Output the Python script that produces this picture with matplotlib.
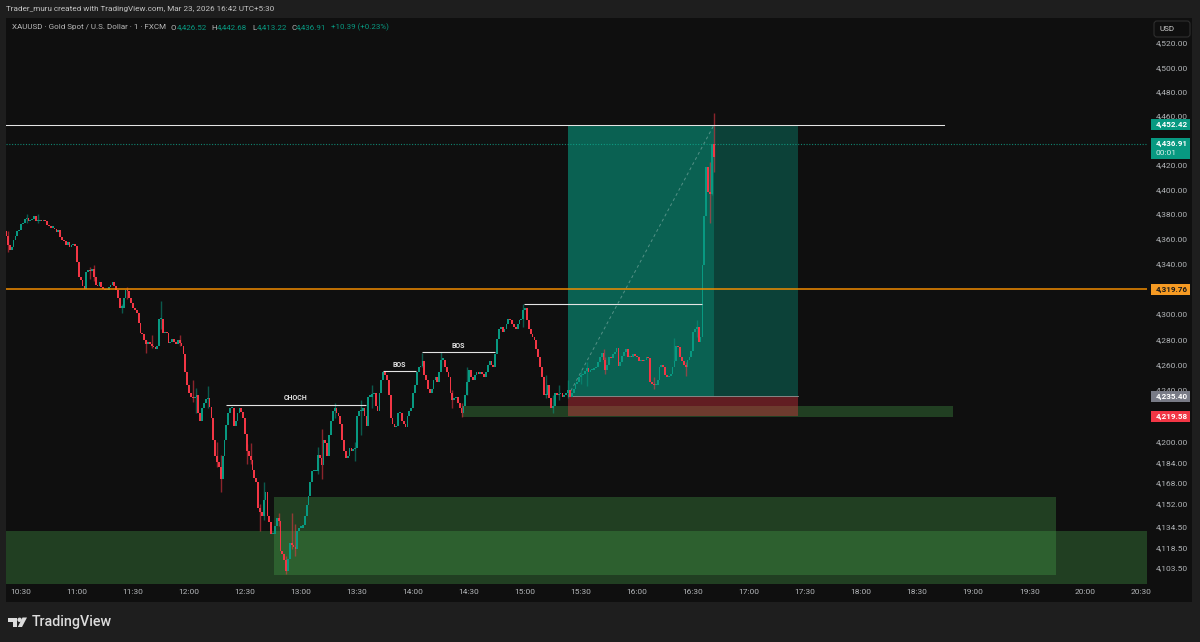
"""Recreate the XAUUSD 1 minute TradingView chart."""

import matplotlib
matplotlib.use('Agg')
import matplotlib.pyplot as plt
from matplotlib.patches import Rectangle, Polygon, Circle, FancyBboxPatch
from matplotlib.transforms import IdentityTransform

plt.rcParams['font.family'] = ['Roboto', 'DejaVu Sans']

W, H = 1200, 642

# closes, one row per 10 minutes, first candle is 10:22
closes = [
  4362, 4355, 4351, 4353, 4359, 4362, 4366, 4367, 4372, 4373,
  4376, 4377, 4374, 4375, 4376, 4378, 4374, 4374, 4375, 4374,
  4375, 4374, 4371, 4370, 4369, 4369, 4368, 4365, 4367, 4361,
  4359, 4358, 4355, 4357, 4353, 4355, 4356, 4354, 4341, 4329,
  4327, 4322, 4320, 4333, 4335, 4334, 4336, 4329, 4323, 4322,
  4325, 4321, 4320, 4319, 4319, 4321, 4323, 4325, 4322, 4319,
  4313, 4305, 4305, 4313, 4319, 4318, 4313, 4309, 4305, 4303,
  4301, 4293, 4285, 4284, 4279, 4276, 4278, 4276, 4275, 4274,
  4272, 4275, 4296, 4296, 4285, 4286, 4285, 4277, 4278, 4280,
  4278, 4276, 4279, 4277, 4275, 4268, 4254, 4244, 4238, 4235,
  4234, 4235, 4236, 4222, 4216, 4226, 4230, 4233, 4234, 4227,
  4218, 4201, 4189, 4184, 4180, 4171, 4189, 4201, 4213, 4222,
  4226, 4226, 4212, 4216, 4222, 4226, 4223, 4218, 4206, 4193,
  4189, 4186, 4178, 4172, 4169, 4149, 4146, 4143, 4155, 4161,
  4143, 4138, 4129, 4129, 4135, 4141, 4139, 4116, 4114, 4109,
  4101, 4110, 4122, 4121, 4119, 4118, 4131, 4134, 4134, 4136,
  4143, 4151, 4158, 4169, 4177, 4177, 4177, 4190, 4187, 4182,
  4201, 4199, 4189, 4205, 4216, 4224, 4226, 4222, 4220, 4214,
  4201, 4193, 4187, 4189, 4195, 4193, 4194, 4195, 4220, 4224,
  4224, 4226, 4220, 4212, 4235, 4235, 4237, 4238, 4228, 4224,
  4238, 4248, 4254, 4252, 4248, 4236, 4218, 4214, 4211, 4212,
  4222, 4222, 4216, 4214, 4211, 4220, 4224, 4226, 4238, 4244,
  4254, 4258, 4259, 4263, 4252, 4248, 4241, 4238, 4241, 4248,
  4250, 4246, 4254, 4264, 4264, 4258, 4254, 4250, 4238, 4232,
  4234, 4235, 4230, 4226, 4222, 4228, 4236, 4246, 4256, 4250,
  4248, 4252, 4254, 4253, 4254, 4253, 4250, 4254, 4260, 4263,
  4260, 4258, 4268, 4280, 4288, 4290, 4286, 4288, 4292, 4296,
  4295, 4292, 4290, 4288, 4292, 4295, 4296, 4303, 4305, 4295,
  4288, 4284, 4282, 4279, 4272, 4266, 4258, 4250, 4236, 4236,
  4244, 4234, 4226, 4228, 4238, 4236, 4237, 4238, 4235, 4236,
  4238, 4240, 4235, 4238, 4241, 4245, 4246, 4250, 4252, 4253,
  4255, 4257, 4254, 4256, 4256, 4257, 4258, 4262, 4266, 4269,
  4264, 4256, 4260, 4266, 4265, 4268, 4270, 4273, 4259, 4262,
  4267, 4270, 4272, 4266, 4267, 4266, 4268, 4267, 4266, 4263,
  4264, 4263, 4264, 4266, 4265, 4246, 4245, 4244, 4244, 4248,
  4258, 4260, 4258, 4252, 4250, 4251, 4253, 4258, 4263, 4275,
  4274, 4266, 4263, 4260, 4258, 4264, 4266, 4271, 4286, 4288,
  4290, 4278, 4282, 4339, 4378, 4418, 4398, 4396, 4436.91, 4426.52,
]
first_open = 4366
first_minute = -8  # minutes from 10:30

# the candles with a wick that stands out
wick_index = [1, 11, 17, 45, 47, 62, 65, 75, 78, 83, 93, 100, 102, 108, 113,
              115, 129, 131, 136, 138, 146, 150, 153, 155, 167, 169, 176, 187,
              190, 196, 223, 233, 239, 244, 247, 277, 289, 293, 296, 301, 308,
              311, 320, 321, 347, 358, 364, 370, 377, 378, 379]
wick_high = [4366, 4380, 4380, 4337, 4339, 4308, 4321, 4279, 4283, 4310, 4283,
             4248, 4242, 4243, 4200, 4190, 4198, 4199, 4152, 4169, 4145, 4112,
             4145, 4137, 4196, 4210, 4230, 4200, 4232, 4244, 4269, 4270, 4240,
             4230, 4258, 4308, 4252, 4236, 4244, 4248, 4256, 4262, 4272, 4266,
             4250, 4281, 4262, 4295, 4422, 4415, 4462]
wick_low = [4349, 4373, 4373, 4328, 4326, 4301, 4312, 4269, 4273, 4288, 4275,
            4231, 4222, 4226, 4180, 4161, 4183, 4183, 4131, 4140, 4135, 4099,
            4118, 4112, 4175, 4171, 4218, 4185, 4205, 4226, 4258, 4258, 4226,
            4219, 4236, 4290, 4234, 4222, 4232, 4234, 4245, 4243, 4262, 4253,
            4241, 4262, 4251, 4282, 4373, 4395, 4414]

# 4,320 and 4,220 sit fully under price tags in the reference
price_ticks = [4520, 4500, 4480, 4460, 4440, 4420, 4400, 4380, 4360, 4340,
               4300, 4280, 4260, 4240, 4200, 4184, 4168, 4152,
               4134.5, 4118.5, 4103.5]
time_labels = ['10:30', '11:00', '11:30', '12:00', '12:30', '13:00', '13:30',
               '14:00', '14:30', '15:00', '15:30', '16:00', '16:30', '17:00',
               '17:30', '18:00', '18:30', '19:00', '19:30', '20:00', '20:30']

last_price = 4436.91
target_price = 4452.42
entry_price = 4235.40
stop_price = 4219.58
orange_price = 4319.76

# minute start, minute end, top price, bottom price
zone_start = [236.2, 135.5, -8.1]
zone_end = [499.2, 554.4, 603.2]
zone_top = [4228, 4157.6, 4131.6]
zone_bottom = [4219.4, 4098.2, 4091.4]

box_start = 293
box_split = 371.2
box_end = 416

level_names = ['CHOCH', 'BOS', 'BOS', '']
level_start = [109.8, 193.9, 214.8, 269.4]
level_end = [184.8, 211.6, 253.9, 364.8]
level_price = [4228.8, 4254.6, 4269.6, 4307.5]

UP = '#089981'
DOWN = '#f23645'
AXIS_TEXT = '#b2b5b8'


def draw_candles(ax):
  """Draw bodies and wicks from the close list."""
  opens = [first_open] + closes[:-1]
  xs = [first_minute + i for i in range(len(closes))]
  colors = [UP if c >= o else DOWN for o, c in zip(opens, closes)]
  bottoms = [min(o, c) for o, c in zip(opens, closes)]
  heights = [max(abs(c - o), 0.9) for o, c in zip(opens, closes)]
  ax.bar(xs, heights, bottom=bottoms, width=0.95, color=colors, linewidth=0,
         zorder=4)
  wick_x = [xs[i] for i in wick_index]
  wick_colors = [colors[i] for i in wick_index]
  ax.vlines(wick_x, wick_low, wick_high, colors=wick_colors, linewidth=1.0,
            alpha=0.55, zorder=3.9)


def draw_overlays(ax):
  """Zones, long position boxes and the drawn levels."""
  for x0, x1, top, bottom in zip(zone_start, zone_end, zone_top, zone_bottom):
    ax.add_patch(Rectangle((x0, bottom), x1 - x0, top - bottom, linewidth=0,
                           facecolor='#4caf50', alpha=0.3, zorder=1))
  # the target box is two layers, the stop box sits under it
  for x1 in [box_split, box_end]:
    ax.add_patch(Rectangle((box_start, entry_price), x1 - box_start,
                           target_price - entry_price, linewidth=0,
                           facecolor=UP, alpha=0.37, zorder=2))
  ax.add_patch(Rectangle((box_start, stop_price), box_end - box_start,
                         entry_price - stop_price, linewidth=0,
                         facecolor=DOWN, alpha=0.37, zorder=2))
  ax.plot([box_start, box_end], [entry_price, entry_price], color='#8a9a98',
          linewidth=0.6, zorder=3)
  ax.plot([box_start, box_split], [entry_price, target_price], color='#ffffff',
          alpha=0.3, linewidth=0.7, dashes=(3, 3), zorder=3)

  for name, x0, x1, p in zip(level_names, level_start, level_end, level_price):
    ax.plot([x0, x1], [p, p], color='#e4e4e4', linewidth=0.8, zorder=5,
            solid_capstyle='butt')
    if name:
      ax.annotate(name, ((x0 + x1) / 2, p), xytext=(0, 2),
                  textcoords='offset points', ha='center', va='bottom',
                  color='#e0e0e0', fontsize=5, fontweight='bold', zorder=6)

  ax.plot([-8.1, 494.4], [target_price, target_price], color='#e4e4e4',
          linewidth=0.75, zorder=5)
  ax.axhline(last_price, color='#0fae92', linewidth=0.8,
             linestyle=(0, (1, 1.5)), alpha=0.75, zorder=3)
  ax.axhline(orange_price, color='#f08c00', linewidth=1.1, zorder=5)


def price_tag(fig, ax, price, color, text_color, second_line=None):
  """Coloured label on the price axis, placed in pixels."""
  y = ax.transData.transform((0, price))[1]
  x0, width = 1151, 39
  if second_line:
    bottom, height = y - 15, 20.5
    fig.add_artist(Rectangle((x0, bottom), width, height, facecolor=color,
                             linewidth=0, transform=IdentityTransform(),
                             zorder=6))
    fig.text((x0 + 36.5) / W, (y + 0.5) / H, f'{price:,.2f}', ha='right',
             va='center', color=text_color, fontsize=5.8, fontweight='bold',
             zorder=7)
    fig.text((x0 + 5) / W, (y - 9.5) / H, second_line, ha='left', va='center',
             color='#d9f0ea', fontsize=6, zorder=7)
    return
  fig.add_artist(Rectangle((x0, y - 5.5), width, 11, facecolor=color,
                           linewidth=0, transform=IdentityTransform(),
                           zorder=6))
  fig.text((x0 + 36.5) / W, y / H, f'{price:,.2f}', ha='right', va='center',
           color=text_color, fontsize=5.8, fontweight='bold', zorder=7)


def draw_header(fig):
  """Header line, OHLC legend and USD button."""
  fig.text(6 / W, 1 - 8.5 / H,
           'Trader_muru created with TradingView.com, Mar 23, 2026 16:42 UTC+5:30',
           color='#c4c4c4', fontsize=5.9, va='center')
  legend_y = 1 - 27.5 / H
  fig.text(12 / W, legend_y, 'XAUUSD · Gold Spot / U.S. Dollar · 1 · FXCM',
           color='#b8b8b8', fontsize=5.8, va='center')
  parts = [(171, 'O', '#b8b8b8'), (177, '4,426.52', UP),
           (211, 'H', '#b8b8b8'), (217, '4,442.68', UP),
           (252, 'L', '#b8b8b8'), (257, '4,413.22', UP),
           (291, 'C', '#b8b8b8'), (296, '4,436.91', UP),
           (331, '+10.39 (+0.23%)', UP)]
  for x, label, color in parts:
    fig.text(x / W, legend_y, label, color=color, fontsize=5.7, va='center')

  fig.add_artist(FancyBboxPatch((1154, H - 37), 36, 16,
                                boxstyle='round,pad=0,rounding_size=3',
                                facecolor='#0f0f0f', edgecolor='#2e2e2e',
                                linewidth=0.8, transform=IdentityTransform(),
                                zorder=6))
  fig.text(1159 / W, 1 - 29 / H, 'USD', color='#cfcfcf', fontsize=5.8,
           va='center', zorder=7)


def draw_logo(fig):
  """TradingView logo at the bottom left."""
  logo = '#dcdcdc'
  stem = [(8, 617.5), (17, 617.5), (17, 627), (12.5, 627), (12.5, 622), (8, 622)]
  slant = [(22.5, 617.5), (27, 617.5), (22, 627), (17.8, 627)]
  for points in [stem, slant]:
    pixels = [(x, H - y) for x, y in points]
    fig.add_artist(Polygon(pixels, closed=True, facecolor=logo, linewidth=0,
                           transform=IdentityTransform()))
  fig.add_artist(Circle((19.6, H - 619.8), 2.2, facecolor=logo, linewidth=0,
                        transform=IdentityTransform()))
  fig.text(32 / W, 1 - 622 / H, 'TradingView', color=logo, fontsize=10.3,
           va='center', fontweight='medium')


def make_chart():
  """Build the whole figure and save it."""
  fig = plt.figure(figsize=(W / 100, H / 100), dpi=100, facecolor='#1e1e1e')
  fig.add_artist(Rectangle((6 / W, 1 - 602 / H), 1186 / W, 584 / H,
                           facecolor='#0f0f0f', linewidth=0,
                           transform=fig.transFigure, zorder=-1))
  ax = fig.add_axes([6 / W, 1 - 584 / H, 1141 / W, 566 / H])
  ax.set_facecolor('#0f0f0f')
  ax.set_yscale('log')
  ax.set_xlim(-8.03, 603.1)
  ax.set_ylim(4091.2, 4541.0)

  draw_overlays(ax)
  draw_candles(ax)

  ax.yaxis.tick_right()
  ax.set_yticks(price_ticks, [f'{p:,.2f}' for p in price_ticks])
  ax.set_yticks([], minor=True)
  ax.set_xticks([30 * i for i in range(len(time_labels))], time_labels)
  ax.tick_params(axis='y', length=0, pad=6.6, labelsize=6, labelcolor=AXIS_TEXT)
  ax.tick_params(axis='x', length=0, pad=3.6, labelsize=6, labelcolor=AXIS_TEXT)
  for spine in ax.spines.values():
    spine.set_visible(False)

  price_tag(fig, ax, target_price, UP, '#ffffff')
  price_tag(fig, ax, last_price, UP, '#ffffff', second_line='00:01')
  price_tag(fig, ax, orange_price, '#f59a23', '#1a1a1a')
  price_tag(fig, ax, entry_price, '#787b86', '#ffffff')
  price_tag(fig, ax, stop_price, DOWN, '#ffffff')

  draw_header(fig)
  draw_logo(fig)
  fig.savefig('out.png', dpi=100, facecolor=fig.get_facecolor())


if __name__ == '__main__':
  make_chart()
